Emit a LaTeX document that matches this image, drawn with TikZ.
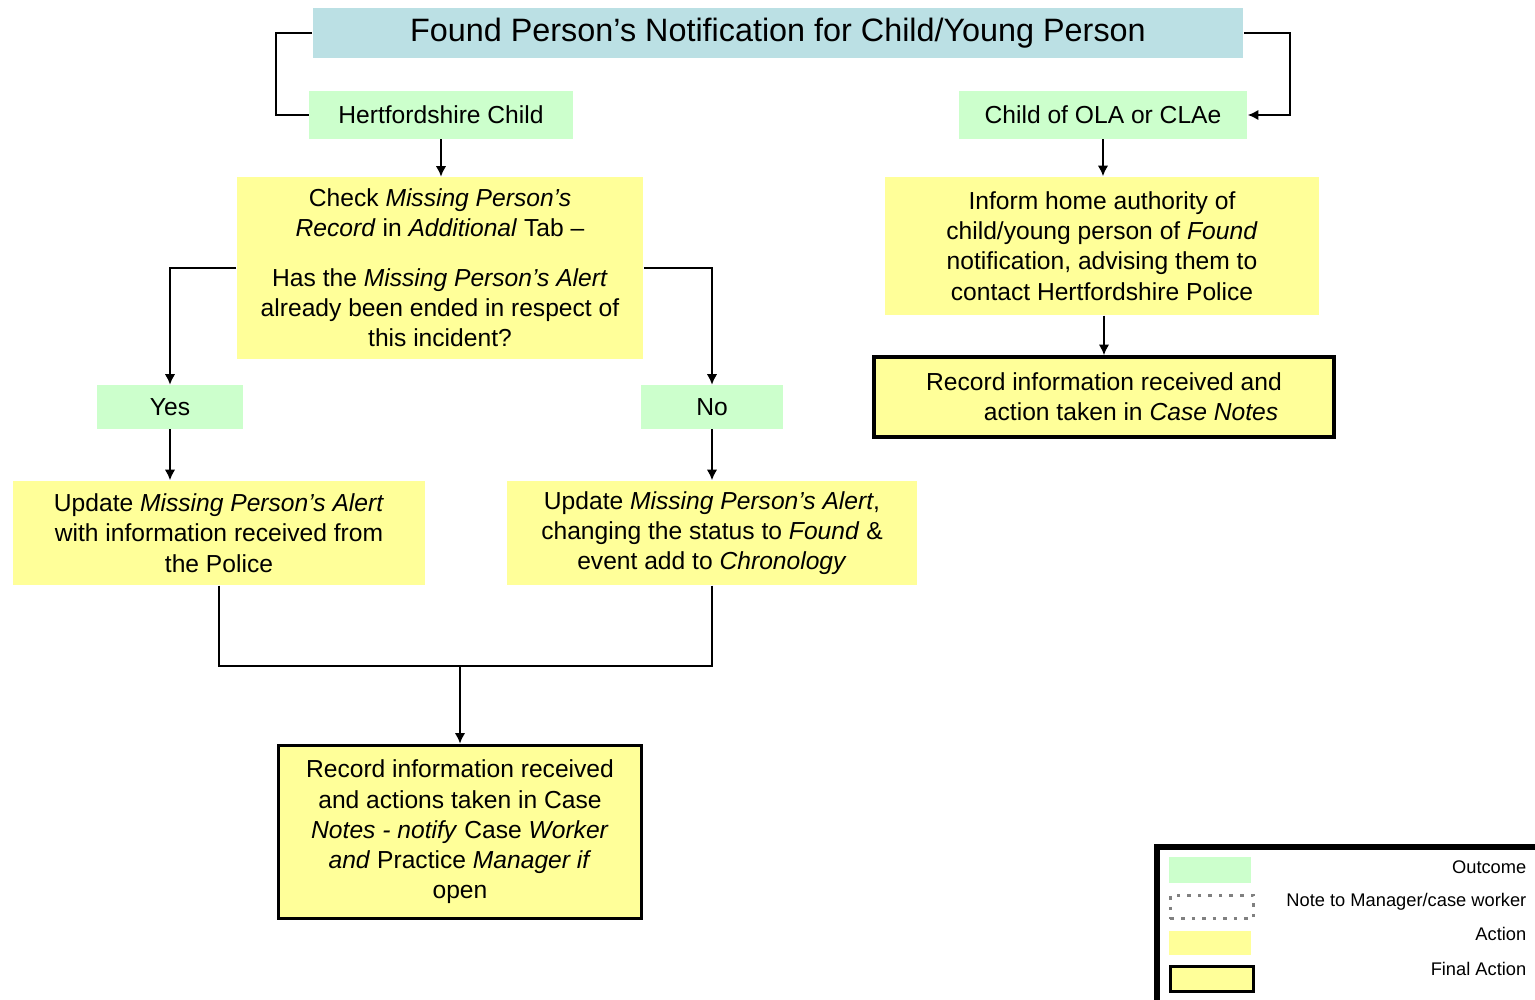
\documentclass[tikz,border=0pt]{standalone}
\usepackage{fontspec}
\setmainfont{Liberation Sans}
\usetikzlibrary{arrows.meta}
\definecolor{outcomegreen}{RGB}{204,255,204}
\definecolor{actionyellow}{RGB}{255,255,153}
\definecolor{titleblue}{RGB}{187,224,228}
\begin{document}
\begin{tikzpicture}[x=0.01cm, y=-0.01cm, style={
    blob/.style={
      align=center,
      inner sep=0pt,
      font=\fontsize{7}{8.6}\selectfont,
    },
    titlestyle/.style={
      blob,
      fill=titleblue,
      font=\fontsize{9.2}{11}\selectfont,
    },
    outcomestyle/.style={
      blob,
      fill=outcomegreen,
    },
    actionstyle/.style={
      blob,
      fill=actionyellow,
    },
    finalstyle/.style={
      blob,
      fill=actionyellow,
      draw=black,
      line width=1pt,
    },
    legtext/.style={
      anchor=east,
      inner sep=0pt,
      font=\fontsize{5.2}{6}\selectfont,
    },
    myline/.style={line width=0.6pt},
    myarrow/.style={-{Latex[length=3pt, width=3pt]}, line width=0.6pt}
  }]
  \useasboundingbox (0,0) rectangle (1535,1000);
  \clip (0,0) rectangle (1535,1000);

  \node[titlestyle, minimum width=9.30cm, minimum height=0.50cm] (title) at (778,33)
    {Found Person's Notification for Child/Young Person};

  % the two kinds of child
  \node[outcomestyle, minimum width=2.63cm, minimum height=0.47cm] (herts) at (441,115)
    {Hertfordshire Child};
  \node[outcomestyle, minimum width=2.88cm, minimum height=0.47cm] (ola) at (1103,115)
    {Child of OLA or CLAe};

  \node[actionstyle, minimum width=4.06cm, minimum height=1.81cm] (check) at (440,268) {
    Check \textit{Missing Person's}\\
    \textit{Record} in \textit{Additional} Tab –\\[5.5pt]
    Has the \textit{Missing Person's Alert}\\
    already been ended in respect of\\
    this incident?
  };
  \node[actionstyle, minimum width=4.33cm, minimum height=1.38cm] (inform) at (1102,246) {
    Inform home authority of\\
    child/young person of \textit{Found}\\
    notification, advising them to\\
    contact Hertfordshire Police
  };
  \node[finalstyle, minimum width=4.60cm, minimum height=0.80cm] (record2) at (1104,397) {
    Record information received and\\
    \hspace*{2.2em}action taken in \textit{Case Notes}
  };

  \node[outcomestyle, minimum width=1.45cm, minimum height=0.43cm] (yes) at (170,407) {Yes};
  \node[outcomestyle, minimum width=1.42cm, minimum height=0.43cm] (no) at (712,407) {No};

  \node[actionstyle, minimum width=4.11cm, minimum height=1.04cm] (upd1) at (219,533) {
    Update \textit{Missing Person's Alert}\\
    with information received from\\
    the Police
  };
  \node[actionstyle, minimum width=4.10cm, minimum height=1.04cm] (upd2) at (712,533) {
    Update \textit{Missing Person's Alert},\\
    changing the status to \textit{Found} \&\\
    event add to \textit{Chronology}
  };

  \node[finalstyle, minimum width=3.63cm, minimum height=1.73cm] (record1) at (460,832) {
    Record information received\\
    and actions taken in Case\\
    \textit{Notes - notify} Case \textit{Worker}\\
    \textit{and} Practice \textit{Manager if}\\
    open
  };

  \coordinate (join) at (460,666);

  % connectors
  \draw[myline] (title.west) -- ++(-36,0) |- (herts.west);
  \draw[myarrow] (title.east) -- ++(46,0) |- (ola.east);
  \draw[myarrow] (herts.south) -- (check.north -| herts.south);
  \draw[myarrow] (check.west) -| (yes.north);
  \draw[myarrow] (check.east) -| (no.north);
  \draw[myarrow] (yes.south) -- (upd1.north -| yes.south);
  \draw[myarrow] (no.south) -- (upd2.north);
  \draw[myline] (upd1.south) |- (join);
  \draw[myline] (upd2.south) |- (join);
  \draw[myarrow] (join) -- (record1.north);
  \draw[myarrow] (ola.south) -- (inform.north -| ola.south);
  \draw[myarrow] (inform.south -| record2.north) -- (record2.north);

  % legend
  \draw[line width=1.5pt] (1157,1020) |- (1550,847);
  \node[fill=outcomegreen, minimum width=0.81cm, minimum height=0.26cm, inner sep=0pt]
    (legoutcome) at (1210,870) {};
  \node[draw=gray, dotted, line width=1pt, minimum width=0.83cm, minimum height=0.23cm, inner sep=0pt]
    (legnote) at (1212,907) {};
  \node[fill=actionyellow, minimum width=0.81cm, minimum height=0.24cm, inner sep=0pt]
    (legaction) at (1210,943) {};
  \node[finalstyle, minimum width=0.83cm, minimum height=0.25cm]
    (legfinal) at (1212,979) {};
  \node[legtext] (legoutcometext) at (1527,867) {Outcome};
  \node[legtext] (legnotetext) at (1527,902) {Note to Manager/case worker};
  \node[legtext] (legactiontext) at (1527,934) {Action};
  \node[legtext] (legfinaltext) at (1527,969) {Final Action};
\end{tikzpicture}
\end{document}
